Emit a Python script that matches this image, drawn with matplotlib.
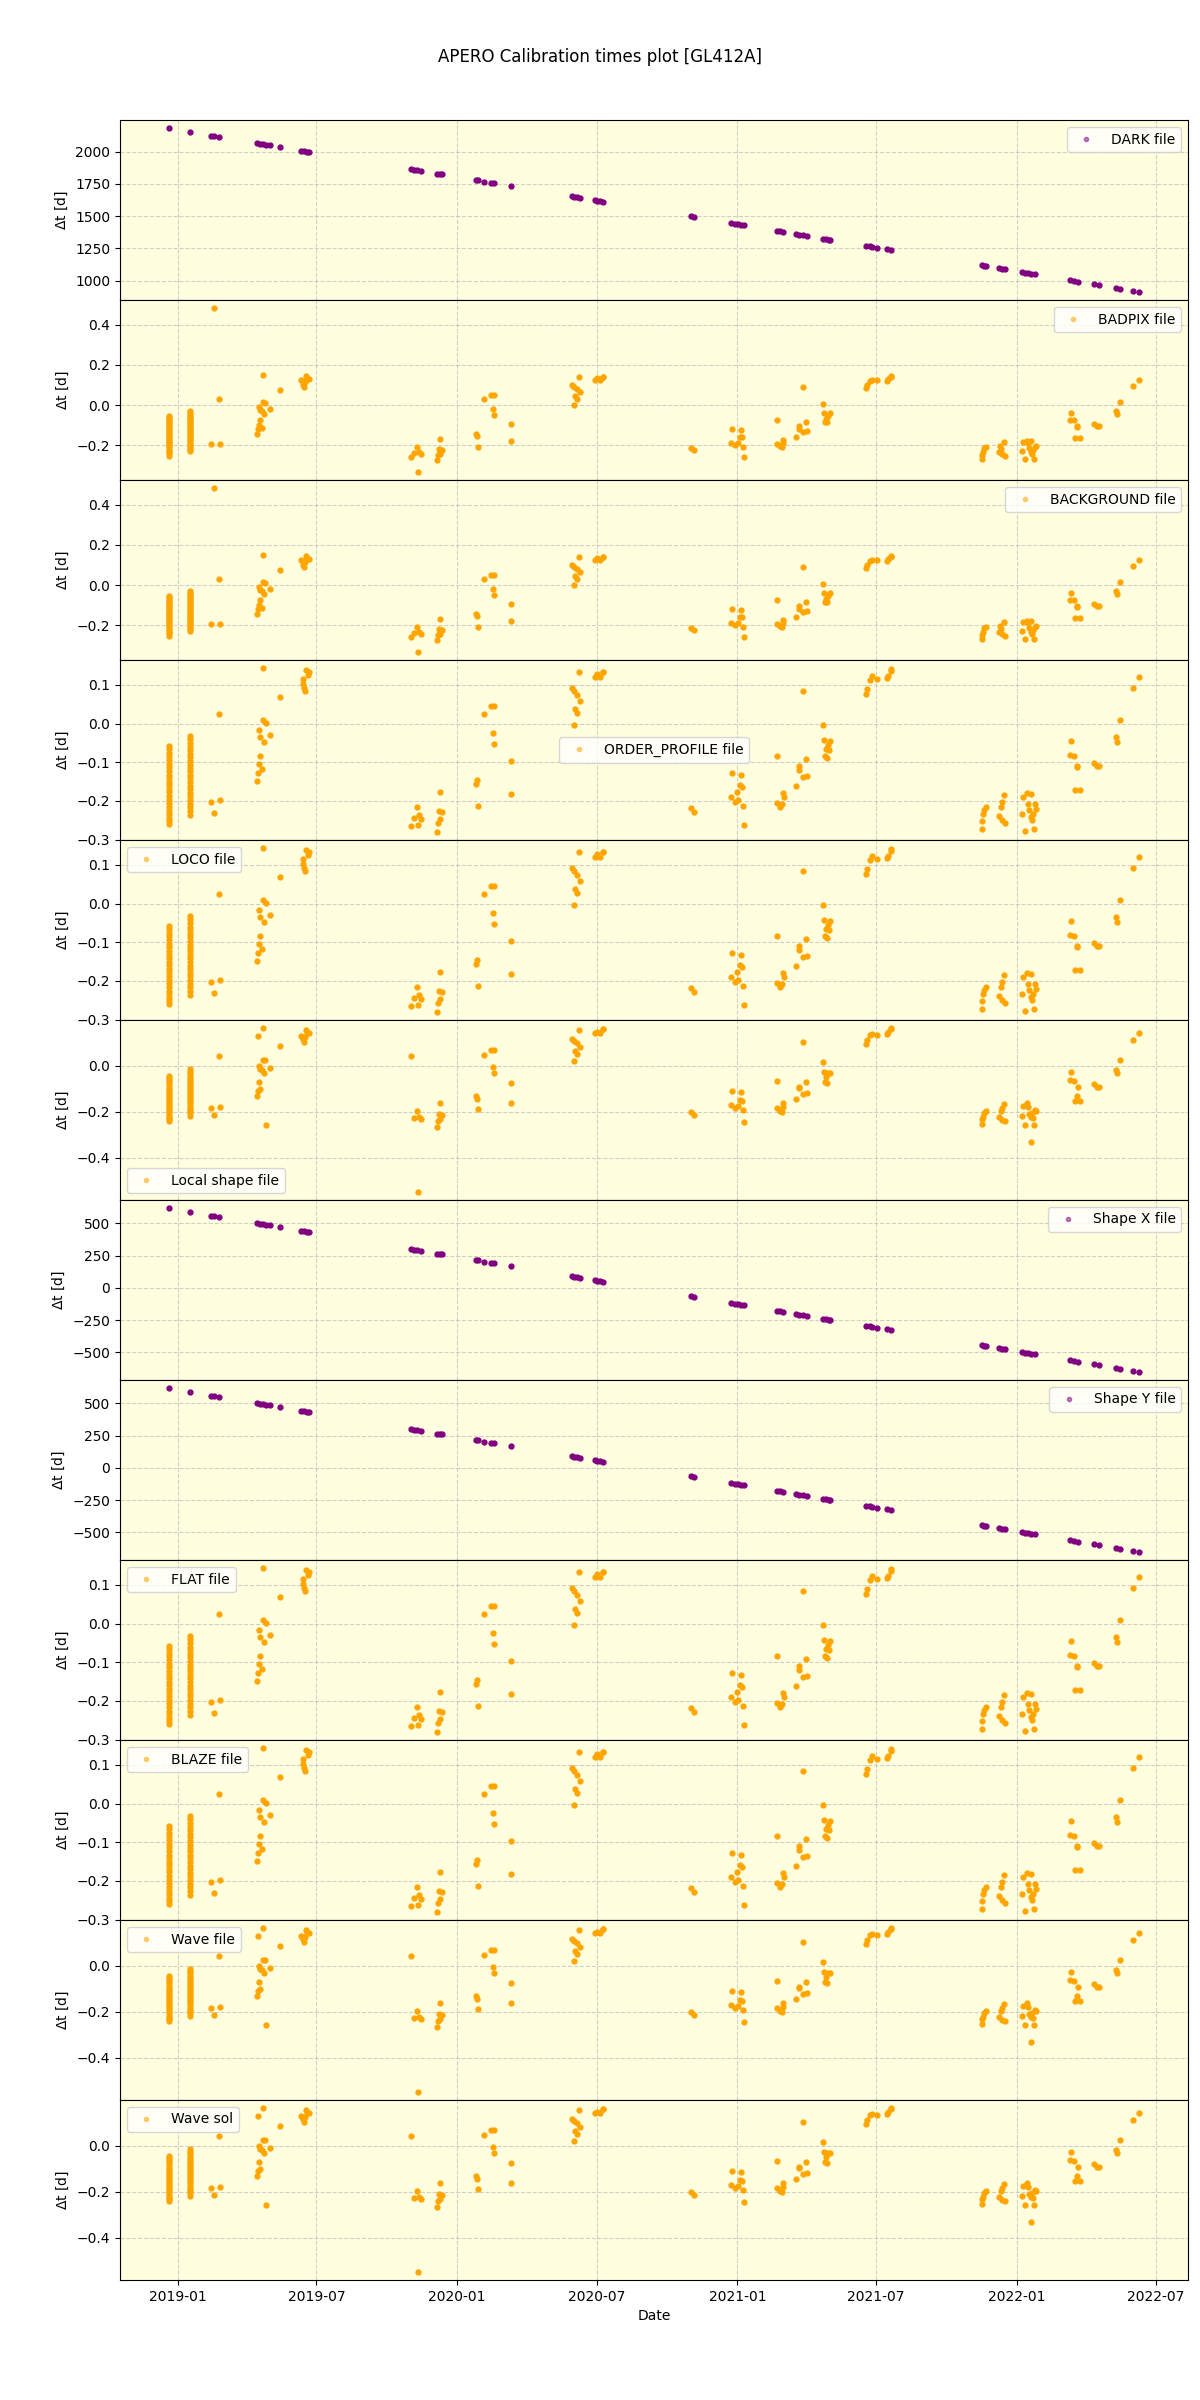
import pandas as pd
import matplotlib
matplotlib.use('Agg')
import matplotlib.pyplot as plt
import matplotlib.dates as mdates

# ---- purple series (DARK / Shape X / Shape Y), one point per night ----
cal_dates = ['2018-12-20', '2019-01-17', '2019-02-13', '2019-02-18', '2019-02-24',
             '2019-04-15', '2019-04-19', '2019-04-23', '2019-04-26', '2019-05-01',
             '2019-05-14', '2019-06-11', '2019-06-15', '2019-06-19', '2019-06-21',
             '2019-11-02', '2019-11-06', '2019-11-09', '2019-11-15', '2019-12-06',
             '2019-12-09', '2019-12-12', '2020-01-26', '2020-01-28', '2020-02-05',
             '2020-02-14', '2020-02-18', '2020-03-11', '2020-05-30', '2020-06-02',
             '2020-06-05', '2020-06-09', '2020-06-29', '2020-07-02', '2020-07-06',
             '2020-07-10', '2020-11-01', '2020-11-05', '2020-12-24', '2020-12-29',
             '2021-01-02', '2021-01-05', '2021-01-09', '2021-02-21', '2021-02-25',
             '2021-03-02', '2021-03-19', '2021-03-23', '2021-03-28', '2021-04-02',
             '2021-04-23', '2021-04-26', '2021-04-30', '2021-05-02', '2021-06-18',
             '2021-06-23', '2021-06-26', '2021-07-02', '2021-07-15', '2021-07-20',
             '2021-11-16', '2021-11-19', '2021-11-21', '2021-12-09', '2021-12-12',
             '2021-12-16', '2022-01-07', '2022-01-12', '2022-01-16', '2022-01-20',
             '2022-01-24', '2022-03-11', '2022-03-17', '2022-03-22', '2022-04-12',
             '2022-04-18', '2022-05-10', '2022-05-16', '2022-06-01', '2022-06-10']
dark_dt = [2183, 2153, 2126, 2121, 2115, 2065, 2061, 2057, 2054, 2049,
           2036, 2008, 2004, 2000, 1998, 1864, 1860, 1857, 1851, 1830,
           1827, 1824, 1779, 1777, 1769, 1760, 1756, 1734, 1654, 1651,
           1648, 1644, 1624, 1621, 1617, 1613, 1499, 1495, 1446, 1441,
           1437, 1434, 1430, 1387, 1383, 1378, 1361, 1357, 1352, 1347,
           1326, 1323, 1319, 1317, 1270, 1265, 1262, 1256, 1243, 1238,
           1119, 1116, 1114, 1096, 1093, 1089, 1067, 1062, 1058, 1054,
           1050, 1004, 998, 993, 972, 966, 944, 938, 922, 913]
shape_dt = [618, 588, 561, 556, 550, 500, 496, 492, 489, 484,
            471, 443, 439, 435, 433, 299, 295, 292, 286, 265,
            262, 259, 214, 212, 204, 195, 191, 169, 89, 86,
            83, 79, 59, 56, 52, 48, -66, -70, -119, -124,
            -128, -131, -135, -178, -182, -187, -204, -208, -213, -218,
            -239, -242, -246, -248, -295, -300, -303, -309, -322, -327,
            -446, -449, -451, -469, -472, -476, -498, -503, -507, -511,
            -515, -561, -567, -572, -593, -599, -621, -627, -643, -652]

# ---- the two long nights (dense vertical bars) ----
bar_dates = ['2018-12-20', '2019-01-17']
bars_a = [[-0.055, -0.062, -0.071, -0.080, -0.088, -0.097, -0.106, -0.115, -0.124, -0.133, -0.142, -0.151,
           -0.160, -0.169, -0.178, -0.187, -0.196, -0.205, -0.214, -0.223, -0.232, -0.241, -0.253],
          [-0.032, -0.041, -0.050, -0.059, -0.068, -0.077, -0.086, -0.095, -0.104, -0.113, -0.122, -0.131,
           -0.140, -0.149, -0.158, -0.167, -0.176, -0.185, -0.194, -0.203, -0.212, -0.220, -0.228]]
bars_b = [[-0.057, -0.066, -0.075, -0.085, -0.094, -0.104, -0.113, -0.122, -0.132, -0.141, -0.150, -0.160,
           -0.169, -0.178, -0.188, -0.197, -0.206, -0.216, -0.225, -0.234, -0.243, -0.251, -0.259],
          [-0.032, -0.041, -0.050, -0.060, -0.069, -0.078, -0.087, -0.096, -0.106, -0.115, -0.124, -0.133,
           -0.142, -0.152, -0.161, -0.170, -0.179, -0.188, -0.198, -0.207, -0.216, -0.226, -0.236]]
bars_c = [[-0.045, -0.054, -0.063, -0.072, -0.081, -0.090, -0.099, -0.108, -0.117, -0.126, -0.135, -0.144,
           -0.153, -0.162, -0.171, -0.180, -0.189, -0.198, -0.207, -0.216, -0.225, -0.233, -0.240],
          [-0.015, -0.024, -0.033, -0.042, -0.051, -0.060, -0.069, -0.078, -0.087, -0.096, -0.105, -0.114,
           -0.123, -0.132, -0.141, -0.150, -0.159, -0.168, -0.177, -0.186, -0.195, -0.205, -0.218]]

# ---- BADPIX / BACKGROUND ----
dates_a = ['2019-02-13', '2019-02-18', '2019-02-24', '2019-02-25',
           '2019-04-15', '2019-04-16', '2019-04-17', '2019-04-19', '2019-04-21', '2019-04-17', '2019-04-18',
           '2019-04-21', '2019-04-23', '2019-04-25', '2019-04-24', '2019-05-01', '2019-04-23',
           '2019-05-14',
           '2019-06-11', '2019-06-13', '2019-06-15', '2019-06-17', '2019-06-19', '2019-06-21', '2019-06-16', '2019-06-13',
           '2019-11-02', '2019-11-05', '2019-11-09', '2019-11-11', '2019-11-12', '2019-11-15',
           '2019-12-09', '2019-12-08', '2019-12-12', '2019-12-10', '2019-12-07', '2019-12-06', '2019-12-09',
           '2020-01-26', '2020-01-27', '2020-01-28', '2020-02-05', '2020-02-14', '2020-02-18', '2020-02-17',
           '2020-02-18', '2020-03-11', '2020-03-11',
           '2020-05-30', '2020-06-02', '2020-06-05', '2020-06-09', '2020-06-08', '2020-06-03', '2020-06-06', '2020-06-01',
           '2020-06-29', '2020-07-02', '2020-07-06', '2020-07-09', '2020-07-10',
           '2020-11-01', '2020-11-05',
           '2020-12-25', '2021-01-05', '2021-01-04', '2021-01-07', '2020-12-24', '2020-12-29', '2021-01-02',
           '2021-01-08', '2021-01-09',
           '2021-02-21', '2021-02-22', '2021-02-25', '2021-02-28', '2021-03-02', '2021-03-02',
           '2021-03-19', '2021-03-22', '2021-03-23', '2021-03-27', '2021-03-28', '2021-04-01', '2021-04-02',
           '2021-04-23', '2021-04-24', '2021-04-26', '2021-04-29', '2021-05-02', '2021-04-25', '2021-04-28',
           '2021-06-18', '2021-06-19', '2021-06-23', '2021-06-26', '2021-07-02',
           '2021-07-15', '2021-07-17', '2021-07-20', '2021-07-21',
           '2021-11-16', '2021-11-17', '2021-11-18', '2021-11-19', '2021-11-21',
           '2021-12-09', '2021-12-11', '2021-12-10', '2021-12-15', '2021-12-13', '2021-12-16',
           '2022-01-07', '2022-01-09', '2022-01-12', '2022-01-14', '2022-01-16', '2022-01-17', '2022-01-20',
           '2022-01-21', '2022-01-23', '2022-01-24', '2022-01-26', '2022-01-19', '2022-01-22',
           '2022-03-12', '2022-03-11', '2022-03-17', '2022-03-20', '2022-03-21', '2022-03-18', '2022-03-24',
           '2022-04-12', '2022-04-15', '2022-04-18',
           '2022-05-10', '2022-05-12', '2022-05-16',
           '2022-06-01', '2022-06-10']
dt_a = [-0.195, 0.483, 0.032, -0.192,
        -0.143, -0.120, -0.098, -0.077, -0.112, -0.010, -0.023,
        -0.032, 0.013, 0.010, -0.045, -0.022, 0.150,
        0.075,
        0.127, 0.102, 0.090, 0.143, 0.132, 0.130, 0.113, 0.118,
        -0.260, -0.240, -0.208, -0.333, -0.232, -0.243,
        -0.170, -0.218, -0.223, -0.243, -0.250, -0.273, -0.232,
        -0.143, -0.153, -0.207, 0.032, 0.050, 0.050, -0.020,
        -0.048, -0.093, -0.178,
        0.098, 0.090, 0.080, 0.067, 0.138, 0.043, 0.030, 0.000,
        0.127, 0.133, 0.127, 0.140, 0.140,
        -0.212, -0.225,
        -0.120, -0.123, -0.157, -0.160, -0.187, -0.198, -0.190,
        -0.207, -0.257,
        -0.077, -0.195, -0.202, -0.210, -0.173, -0.190,
        -0.157, -0.107, -0.120, -0.133, 0.090, -0.085, -0.130,
        0.003, -0.040, -0.070, -0.057, -0.040, -0.083, -0.085,
        0.085, 0.102, 0.120, 0.127, 0.123,
        0.120, 0.130, 0.140, 0.145,
        -0.267, -0.248, -0.232, -0.215, -0.207,
        -0.235, -0.220, -0.203, -0.182, -0.243, -0.252,
        -0.228, -0.185, -0.270, -0.178, -0.190, -0.215, -0.232,
        -0.243, -0.267, -0.207, -0.203, -0.177, -0.223,
        -0.040, -0.073, -0.077, -0.103, -0.110, -0.165, -0.165,
        -0.097, -0.103, -0.107,
        -0.032, -0.043, 0.015,
        0.097, 0.127]

# ---- ORDER_PROFILE / LOCO / FLAT / BLAZE ----
dates_b = ['2019-02-13', '2019-02-18', '2019-02-25', '2019-02-24',
           '2019-04-23', '2019-04-15', '2019-04-16', '2019-04-17', '2019-04-19', '2019-04-21', '2019-04-17',
           '2019-04-19', '2019-04-24', '2019-04-23', '2019-04-26', '2019-05-01',
           '2019-05-14',
           '2019-06-13', '2019-06-15', '2019-06-17', '2019-06-20', '2019-06-16', '2019-06-14', '2019-06-21',
           '2019-11-02', '2019-11-05', '2019-11-09', '2019-11-11', '2019-11-12', '2019-11-15',
           '2019-12-09', '2019-12-08', '2019-12-12', '2019-12-10', '2019-12-07', '2019-12-06',
           '2020-01-26', '2020-01-27', '2020-01-28', '2020-02-05', '2020-02-14', '2020-02-18', '2020-02-17',
           '2020-02-18', '2020-03-11', '2020-03-11',
           '2020-05-30', '2020-06-02', '2020-06-05', '2020-06-09', '2020-06-08', '2020-06-03', '2020-06-06', '2020-06-01',
           '2020-06-29', '2020-07-02', '2020-07-06', '2020-07-09', '2020-07-10',
           '2020-11-01', '2020-11-05',
           '2020-12-25', '2021-01-05', '2021-01-04', '2021-01-07', '2020-12-24', '2020-12-29', '2021-01-02',
           '2021-01-08', '2021-01-09', '2021-01-01',
           '2021-02-21', '2021-02-22', '2021-02-25', '2021-02-28', '2021-03-02', '2021-03-03',
           '2021-03-19', '2021-03-22', '2021-03-23', '2021-03-27', '2021-03-28', '2021-04-01', '2021-04-02',
           '2021-04-23', '2021-04-24', '2021-04-26', '2021-04-29', '2021-05-02', '2021-04-25', '2021-04-28', '2021-04-30',
           '2021-06-18', '2021-06-19', '2021-06-23', '2021-06-26', '2021-07-02',
           '2021-07-15', '2021-07-17', '2021-07-20', '2021-07-21',
           '2021-11-16', '2021-11-17', '2021-11-18', '2021-11-19', '2021-11-21',
           '2021-12-09', '2021-12-11', '2021-12-12', '2021-12-15', '2021-12-13', '2021-12-16',
           '2022-01-07', '2022-01-09', '2022-01-12', '2022-01-14', '2022-01-16', '2022-01-17', '2022-01-20',
           '2022-01-21', '2022-01-23', '2022-01-24', '2022-01-26', '2022-01-19', '2022-01-22',
           '2022-03-12', '2022-03-11', '2022-03-17', '2022-03-20', '2022-03-21', '2022-03-18', '2022-03-24',
           '2022-04-12', '2022-04-15', '2022-04-18',
           '2022-05-10', '2022-05-12', '2022-05-16',
           '2022-06-01', '2022-06-10']
dt_b = [-0.202, -0.231, -0.197, 0.025,
        0.143, -0.149, -0.129, -0.104, -0.085, -0.118, -0.018,
        -0.035, -0.049, 0.009, 0.002, -0.029,
        0.069,
        0.115, 0.093, 0.138, 0.125, 0.084, 0.102, 0.134,
        -0.266, -0.244, -0.216, -0.263, -0.236, -0.248,
        -0.177, -0.226, -0.229, -0.246, -0.257, -0.280,
        -0.157, -0.146, -0.212, 0.025, 0.044, 0.044, -0.025,
        -0.054, -0.097, -0.183,
        0.091, 0.083, 0.074, 0.058, 0.132, 0.037, 0.026, -0.005,
        0.119, 0.128, 0.119, 0.134, 0.134,
        -0.219, -0.230,
        -0.127, -0.133, -0.159, -0.165, -0.190, -0.203, -0.197,
        -0.213, -0.263, -0.177,
        -0.083, -0.205, -0.216, -0.209, -0.179, -0.191,
        -0.161, -0.120, -0.110, -0.139, 0.083, -0.091, -0.137,
        -0.003, -0.043, -0.066, -0.055, -0.045, -0.085, -0.088, -0.068,
        0.077, 0.090, 0.113, 0.122, 0.115,
        0.117, 0.123, 0.137, 0.141,
        -0.272, -0.253, -0.235, -0.224, -0.216,
        -0.240, -0.216, -0.203, -0.185, -0.250, -0.257,
        -0.235, -0.190, -0.277, -0.179, -0.207, -0.223, -0.242,
        -0.250, -0.272, -0.207, -0.220, -0.183, -0.235,
        -0.046, -0.081, -0.085, -0.113, -0.110, -0.172, -0.172,
        -0.101, -0.110, -0.111,
        -0.035, -0.047, 0.008,
        0.091, 0.121]

# ---- Local shape / Wave file / Wave sol ----
dates_c = ['2019-02-13', '2019-02-18', '2019-02-25', '2019-02-24',
           '2019-04-23', '2019-04-16', '2019-04-15', '2019-04-16', '2019-04-19', '2019-04-17', '2019-04-17',
           '2019-04-19', '2019-04-21', '2019-04-24', '2019-04-23', '2019-04-25', '2019-05-01', '2019-04-26',
           '2019-05-14',
           '2019-06-11', '2019-06-13', '2019-06-15', '2019-06-17', '2019-06-19', '2019-06-21', '2019-06-16',
           '2019-11-02', '2019-11-06', '2019-11-09', '2019-11-11', '2019-11-12', '2019-11-15',
           '2019-12-09', '2019-12-08', '2019-12-12', '2019-12-10', '2019-12-07', '2019-12-06',
           '2020-01-26', '2020-01-27', '2020-01-28', '2020-02-05', '2020-02-14', '2020-02-18', '2020-02-17',
           '2020-02-18', '2020-03-11', '2020-03-11',
           '2020-05-30', '2020-06-02', '2020-06-05', '2020-06-09', '2020-06-08', '2020-06-03', '2020-06-06', '2020-06-01',
           '2020-06-29', '2020-07-02', '2020-07-06', '2020-07-09', '2020-07-10',
           '2020-11-01', '2020-11-05',
           '2020-12-25', '2021-01-05', '2021-01-04', '2021-01-07', '2020-12-24', '2020-12-29', '2021-01-02',
           '2021-01-08', '2021-01-09',
           '2021-02-21', '2021-02-22', '2021-02-25', '2021-02-28', '2021-03-02', '2021-03-02',
           '2021-03-19', '2021-03-22', '2021-03-23', '2021-03-27', '2021-03-28', '2021-04-01', '2021-04-02',
           '2021-04-23', '2021-04-24', '2021-04-26', '2021-04-29', '2021-05-02', '2021-04-25', '2021-04-28',
           '2021-06-18', '2021-06-19', '2021-06-23', '2021-06-26', '2021-07-02',
           '2021-07-15', '2021-07-17', '2021-07-20', '2021-07-21',
           '2021-11-16', '2021-11-17', '2021-11-18', '2021-11-19', '2021-11-21',
           '2021-12-09', '2021-12-11', '2021-12-12', '2021-12-15', '2021-12-13', '2021-12-16',
           '2022-01-07', '2022-01-09', '2022-01-12', '2022-01-14', '2022-01-16', '2022-01-17', '2022-01-20',
           '2022-01-21', '2022-01-23', '2022-01-24', '2022-01-26', '2022-01-19', '2022-01-22',
           '2022-03-12', '2022-03-11', '2022-03-17', '2022-03-22', '2022-03-20', '2022-03-18', '2022-03-24',
           '2022-04-12', '2022-04-15', '2022-04-18',
           '2022-05-10', '2022-05-12', '2022-05-16',
           '2022-06-01', '2022-06-10']
dt_c = [-0.185, -0.215, -0.180, 0.045,
        0.163, 0.131, -0.131, -0.108, -0.102, -0.068, 0.000,
        -0.015, -0.017, -0.032, 0.026, 0.025, -0.010, -0.257,
        0.087,
        0.131, 0.116, 0.106, 0.157, 0.145, 0.143, 0.125,
        0.044, -0.228, -0.198, -0.548, -0.221, -0.233,
        -0.160, -0.209, -0.214, -0.233, -0.239, -0.265,
        -0.131, -0.143, -0.189, 0.049, 0.070, 0.070, -0.003,
        -0.029, -0.073, -0.160,
        0.118, 0.108, 0.099, 0.084, 0.157, 0.063, 0.051, 0.020,
        0.143, 0.148, 0.143, 0.160, 0.160,
        -0.200, -0.212,
        -0.109, -0.112, -0.148, -0.153, -0.172, -0.185, -0.175,
        -0.192, -0.244,
        -0.064, -0.185, -0.195, -0.199, -0.160, -0.177,
        -0.143, -0.090, -0.097, -0.122, 0.103, -0.071, -0.119,
        0.016, -0.025, -0.047, -0.029, -0.029, -0.068, -0.073,
        0.096, 0.111, 0.135, 0.140, 0.134,
        0.140, 0.148, 0.160, 0.164,
        -0.255, -0.233, -0.221, -0.207, -0.195,
        -0.224, -0.198, -0.185, -0.166, -0.236, -0.240,
        -0.218, -0.175, -0.259, -0.163, -0.180, -0.209, -0.221,
        -0.207, -0.256, -0.192, -0.195, -0.332, -0.227,
        -0.028, -0.061, -0.065, -0.093, -0.131, -0.153, -0.153,
        -0.080, -0.090, -0.093,
        -0.017, -0.029, 0.026,
        0.111, 0.141]

# panel order: label, colour, dates, values, bars, legend position
panels = [
    ('DARK file', 'purple', cal_dates, dark_dt, None, 'upper right'),
    ('BADPIX file', 'orange', dates_a, dt_a, bars_a, 'upper right'),
    ('BACKGROUND file', 'orange', dates_a, dt_a, bars_a, 'upper right'),
    ('ORDER_PROFILE file', 'orange', dates_b, dt_b, bars_b, 'center'),
    ('LOCO file', 'orange', dates_b, dt_b, bars_b, 'upper left'),
    ('Local shape file', 'orange', dates_c, dt_c, bars_c, 'lower left'),
    ('Shape X file', 'purple', cal_dates, shape_dt, None, 'upper right'),
    ('Shape Y file', 'purple', cal_dates, shape_dt, None, 'upper right'),
    ('FLAT file', 'orange', dates_b, dt_b, bars_b, 'upper left'),
    ('BLAZE file', 'orange', dates_b, dt_b, bars_b, 'upper left'),
    ('Wave file', 'orange', dates_c, dt_c, bars_c, 'upper left'),
    ('Wave sol', 'orange', dates_c, dt_c, bars_c, 'upper left'),
]

fig, axes = plt.subplots(len(panels), 1, figsize=(12, 24), dpi=100, sharex=True)
fig.subplots_adjust(left=0.1, right=0.99, top=0.95, bottom=0.05, hspace=0)

for ax, (name, col, dts, vals, bars, loc) in zip(axes, panels):
    ax.set_facecolor('lightyellow')
    ax.plot(pd.to_datetime(dts), vals, '.', color=col, ls='None', ms=7)
    if bars is not None:
        for bd, bv in zip(bar_dates, bars):
            ax.plot(pd.to_datetime([bd] * len(bv)), bv, '.', color=col, ls='None', ms=7)
    # legend entry drawn lighter, as in the original
    ax.plot([], [], '.', color=col, alpha=0.5, ms=6, label=name)
    ax.legend(loc=loc)
    ax.grid(True, ls='--', alpha=0.6)
    ax.set_ylabel(r'$\Delta$t [d]')

axes[-1].xaxis.set_major_locator(mdates.MonthLocator(bymonth=(1, 7)))
axes[-1].xaxis.set_major_formatter(mdates.DateFormatter('%Y-%m'))
axes[-1].set_xlabel('Date')
fig.suptitle('APERO Calibration times plot [GL412A]')

plt.savefig('out.png')
